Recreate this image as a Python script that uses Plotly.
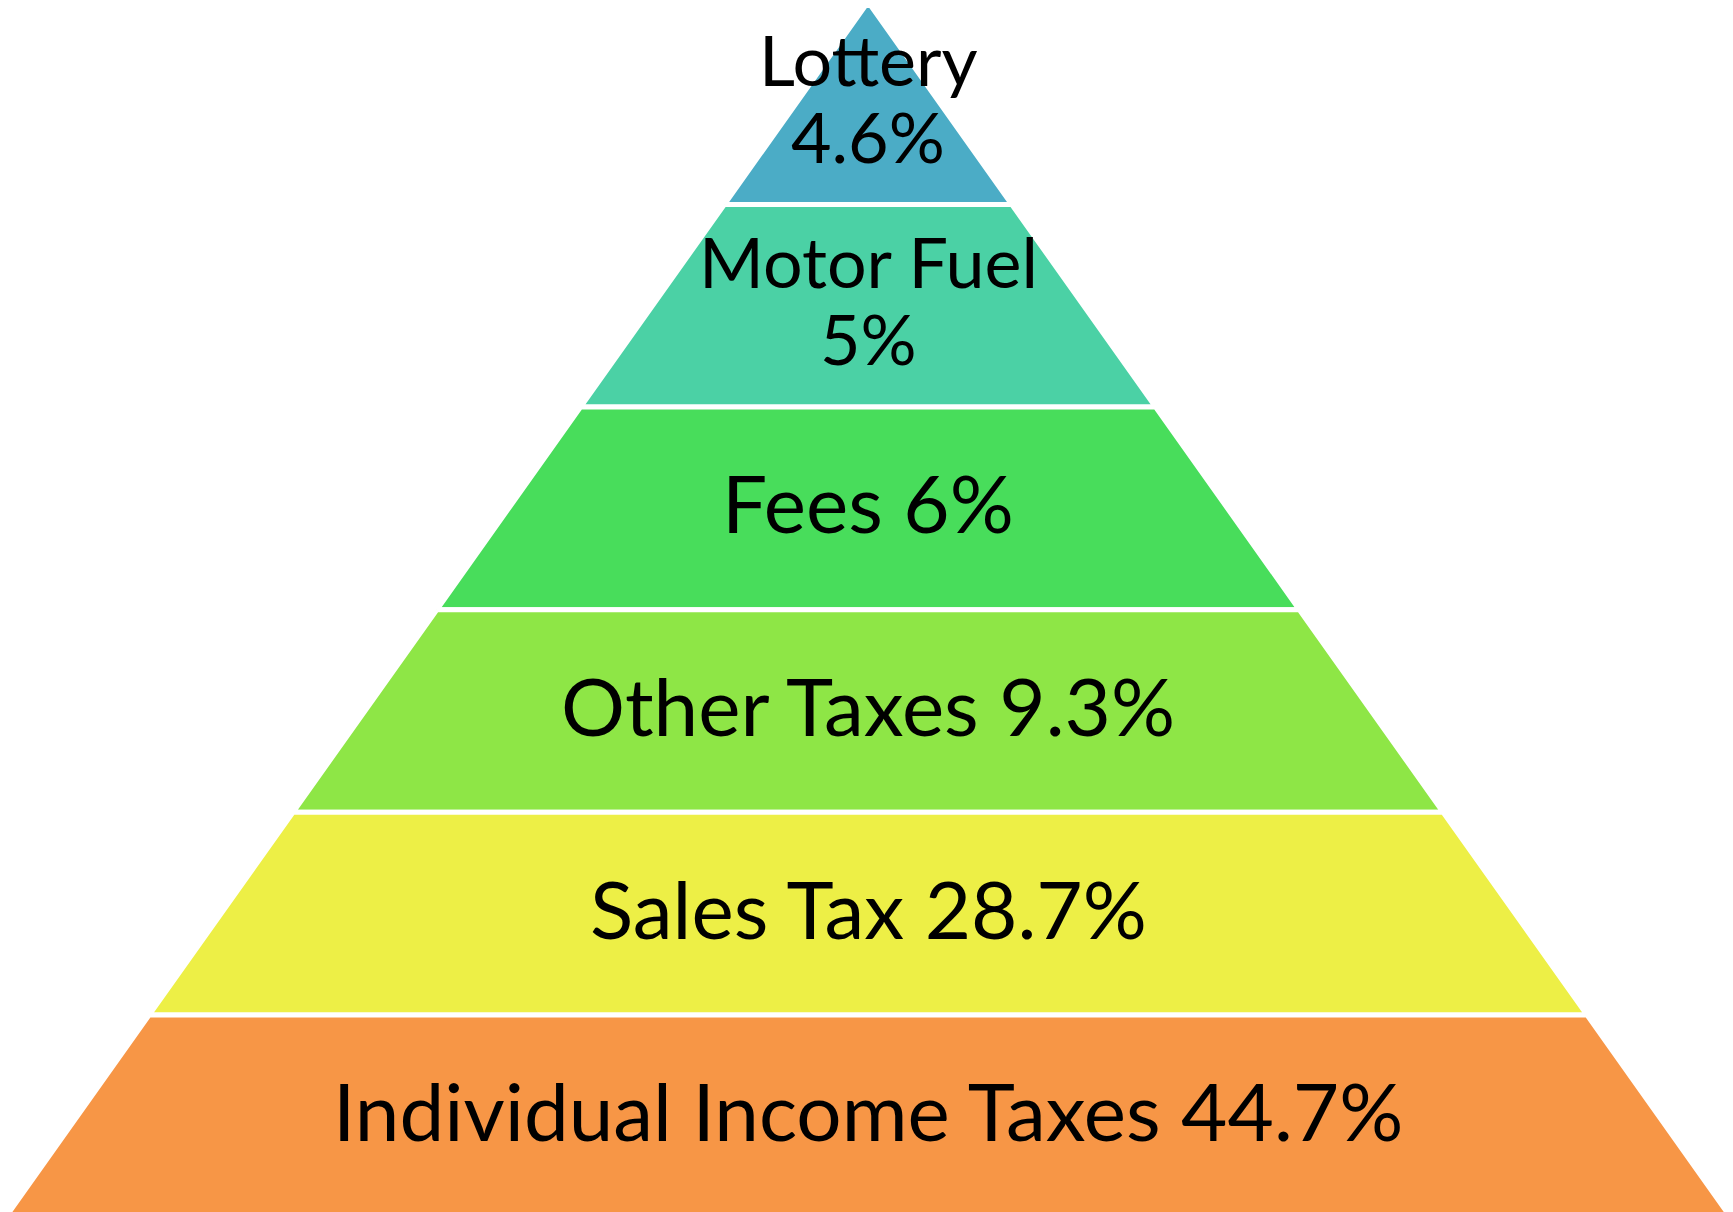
import plotly.graph_objects as go

# revenue sources, top of the pyramid first
sources = ["Lottery", "Motor Fuel", "Fees", "Other Taxes", "Sales Tax", "Individual Income Taxes"]
shares = [4.6, 5, 6, 9.3, 28.7, 44.7]
colors = ["#4BACC6", "#4BD1A5", "#48DD5B", "#8EE646", "#EDEF46", "#F79646"]
wrapped = [True, True, False, False, False, False]  # narrow top layers get two lines

SLOPE = 0.7096  # half-width per unit of depth
BIG = dict(family="Lato, Carlito, 'Open Sans', sans-serif", size=80, color="black")
SMALL = dict(BIG, size=70)

fig = go.Figure()

for i, (name, col) in enumerate(zip(sources, colors)):
    top, bot = i, i + 1
    xs = [-SLOPE * top, SLOPE * top, SLOPE * bot, -SLOPE * bot, -SLOPE * top]
    ys = [top, top, bot, bot, top]
    fig.add_trace(go.Scatter(
        x=xs, y=ys, mode="lines", fill="toself", fillcolor=col,
        line=dict(color="white", width=5), hoverinfo="skip", showlegend=False
    ))

for i, (name, val) in enumerate(zip(sources, shares)):
    pct = f"{val:g}%"
    mid = i + 0.5 - 0.03
    if wrapped[i]:
        fig.add_annotation(x=0, y=mid - 0.19, text=name, showarrow=False, font=SMALL, yanchor="middle")
        fig.add_annotation(x=0, y=mid + 0.19, text=pct, showarrow=False, font=SMALL, yanchor="middle")
    else:
        fig.add_annotation(x=0, y=mid, text=f"{name} {pct}", showarrow=False, font=BIG, yanchor="middle")

# the page body adds an 8px margin, so the figure is a little smaller and the ranges shifted
fig.update_layout(
    width=1725, height=1204,
    margin=dict(l=0, r=0, t=0, b=0),
    paper_bgcolor="white", plot_bgcolor="white",
    xaxis=dict(range=[-4.245, 4.269], visible=False, fixedrange=True),
    yaxis=dict(range=[5.973, 0.0301], visible=False, fixedrange=True),
    showlegend=False,
)

fig.write_html("out.html")
